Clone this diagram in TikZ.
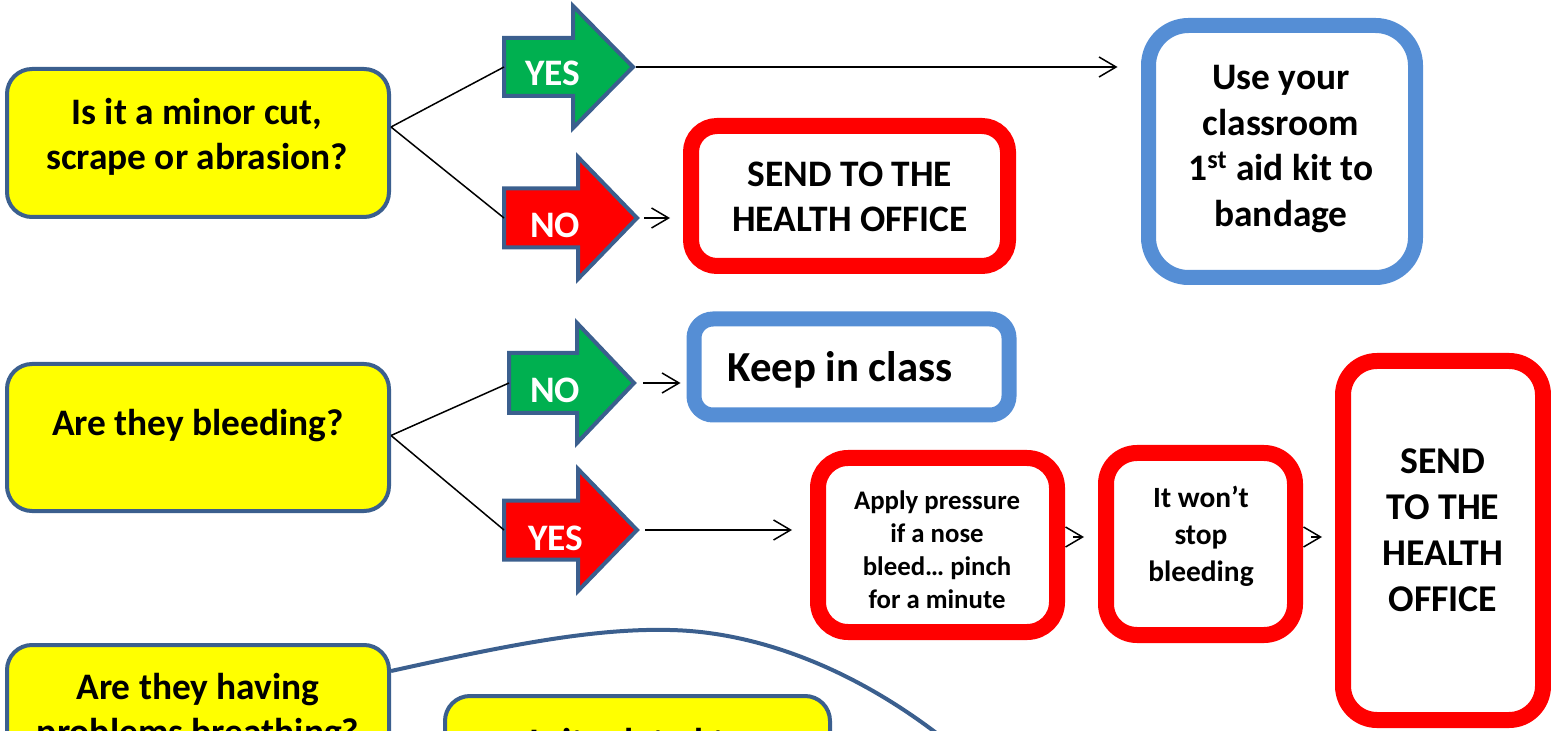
\documentclass[tikz,border=0pt]{standalone}
\usepackage{fontspec}
\setmainfont{Carlito}
\usetikzlibrary{arrows.meta,calc}
\definecolor{qyellow}{HTML}{FFFF00}
\definecolor{qedge}{HTML}{3B5F8E}
\definecolor{okgreen}{HTML}{00B050}
\definecolor{stopred}{HTML}{FF0000}
\definecolor{infoblue}{HTML}{558ED5}
\tikzset{
 qbox/.style={draw=qedge, fill=qyellow, line width=2pt, rounded corners=12.5pt, inner sep=0pt},
 redbox/.style={draw=stopred, line width=8pt, fill=white, inner sep=0pt},
 bluebox/.style={draw=infoblue, line width=7.5pt, fill=white, inner sep=0pt},
 bigtext/.style={font=\fontsize{18.7}{22.5}\selectfont\bfseries, align=center, inner sep=0pt},
 arrowshape/.style={draw=qedge, line width=2pt, line join=miter},
 arrowlabel/.style={font=\fontsize{18.7}{20}\selectfont\bfseries, text=white, inner sep=0pt},
 conn/.style={draw=black, line width=0.75pt},
 connarrow/.style={conn, -{Straight Barb[length=8.5pt,width=10pt]}},
 curveline/.style={draw=qedge, line width=2pt},
}
\newcommand{\blockarrow}[8]{%
 \path[arrowshape, fill=#2] (#3,#6-#7) -- (#4,#6-#7) -- (#4,#6-#8) -- (#5,#6) -- (#4,#6+#8) -- (#4,#6+#7) -- (#3,#6+#7) -- cycle;
 \coordinate (#1-tail) at (#3,#6);
 \coordinate (#1-tip) at (#5,#6);
}
\begin{document}
\begin{tikzpicture}[x=0.5pt,y=-0.5pt]
\useasboundingbox (0,0) rectangle (1551,731);
\clip (0,0) rectangle (1551,731);

% question boxes
\node[qbox, minimum width=191pt, minimum height=74pt] (q1) at (198,143) {};
\node[bigtext] (q1t) at (197,137) {Is it a minor cut,\\scrape or abrasion?};
\node[qbox, minimum width=191pt, minimum height=73.5pt] (q2) at (198,437.5) {};
\node[bigtext] (q2t) at (198,426) {Are they bleeding?};
\node[qbox, minimum width=191pt, minimum height=74pt] (q3) at (198,719) {};
\node[bigtext] (q3t) at (198,712) {Are they having\\problems breathing?};
\node[qbox, minimum width=192.5pt, minimum height=74pt] (q4) at (637.5,770) {};
\node[bigtext] (q4t) at (637,764) {Is it related to\\asthma?};

% block arrows
\blockarrow{a1}{okgreen}{504}{573}{633}{67}{29}{61}
\node[arrowlabel] (a1l) at (553,73) {YES};
\blockarrow{a2}{stopred}{504}{578}{637}{218}{29.5}{61}
\node[arrowlabel] (a2l) at (555,225) {NO};
\blockarrow{a3}{okgreen}{509}{577}{634}{383}{30}{60}
\node[arrowlabel] (a3l) at (555,390) {NO};
\blockarrow{a4}{stopred}{504}{578}{637}{530}{29.5}{61}
\node[arrowlabel] (a4l) at (556,538) {YES};

% outcome boxes
\node[redbox, rounded corners=13pt, minimum width=158.5pt, minimum height=70pt] (r1) at (849.5,196) {};
\node[bigtext] (r1t) at (850,197) {SEND TO THE\\HEALTH OFFICE};
\node[bluebox, rounded corners=20pt, minimum width=133.5pt, minimum height=126pt] (b1) at (1282,151.5) {};
\node[bigtext, font=\fontsize{18.7}{22.7}\selectfont\bfseries] (b1t) at (1281,149) {Use your\\classroom\\1\textsuperscript{st} aid kit to\\bandage};
\node[bluebox, rounded corners=9.5pt, minimum width=157.5pt, minimum height=48pt] (b2) at (851.5,367) {};
\node[bigtext, anchor=west, font=\fontsize{21.4}{24}\selectfont\bfseries] (b2t) at (727,370) {Keep in class};
\node[redbox, rounded corners=15pt, minimum width=119.5pt, minimum height=87pt] (r2) at (937.5,545) {};
\node[bigtext, font=\fontsize{13.4}{16.5}\selectfont\bfseries] (r2t) at (937,550) {Apply pressure\\if a nose\\bleed… pinch\\for a minute};
\node[redbox, rounded corners=15.5pt, minimum width=94.5pt, minimum height=91pt] (r3) at (1200.5,544) {};
\node[bigtext, font=\fontsize{14.7}{18.5}\selectfont\bfseries] (r3t) at (1201,536) {It won’t\\stop\\bleeding};
\node[redbox, rounded corners=17pt, minimum width=100pt, minimum height=179.5pt] (r4) at (1443,540.5) {};
\node[bigtext, font=\fontsize{18.9}{23}\selectfont\bfseries] (r4t) at (1443,530) {SEND\\TO THE\\HEALTH\\OFFICE};

% connectors
\draw[conn] ([yshift=8pt]q1.east) -- (a1-tail);
\draw[conn] ([yshift=8pt]q1.east) -- (a2-tail);
\draw[conn] ([yshift=1pt]q2.east) -- (a3-tail);
\draw[conn] ([yshift=1pt]q2.east) -- (a4-tail);
\draw[connarrow, shorten <=1.5pt, shorten >=11.75pt] (a1-tip) -- (a1-tip -| b1.west);
\draw[connarrow, shorten <=3.5pt, shorten >=6.5pt] (a2-tip) -- (a2-tip -| r1.west);
\draw[connarrow, shorten <=4.5pt, shorten >=3pt] (a3-tip) -- (a3-tip -| b2.west);
\draw[connarrow, shorten <=4pt, shorten >=9pt] (a4-tip) -- (a4-tip -| r2.west);
\draw[connarrow, shorten <=4pt, shorten >=7pt] ([yshift=4pt]r2.east) -- ([yshift=4pt]r2.east -| r3.west);
\draw[connarrow, shorten <=4pt, shorten >=6.5pt] ([yshift=3.5pt]r3.east) -- ([yshift=3.5pt]r3.east -| r4.west);

% curved connector from breathing question
\coordinate (c3end) at (975,765);
\draw[curveline] ([yshift=24pt]q3.east) .. controls (500,647) and (590,628) .. (670,630) .. controls (770,632) and (880,680) .. (c3end);
\end{tikzpicture}
\end{document}
